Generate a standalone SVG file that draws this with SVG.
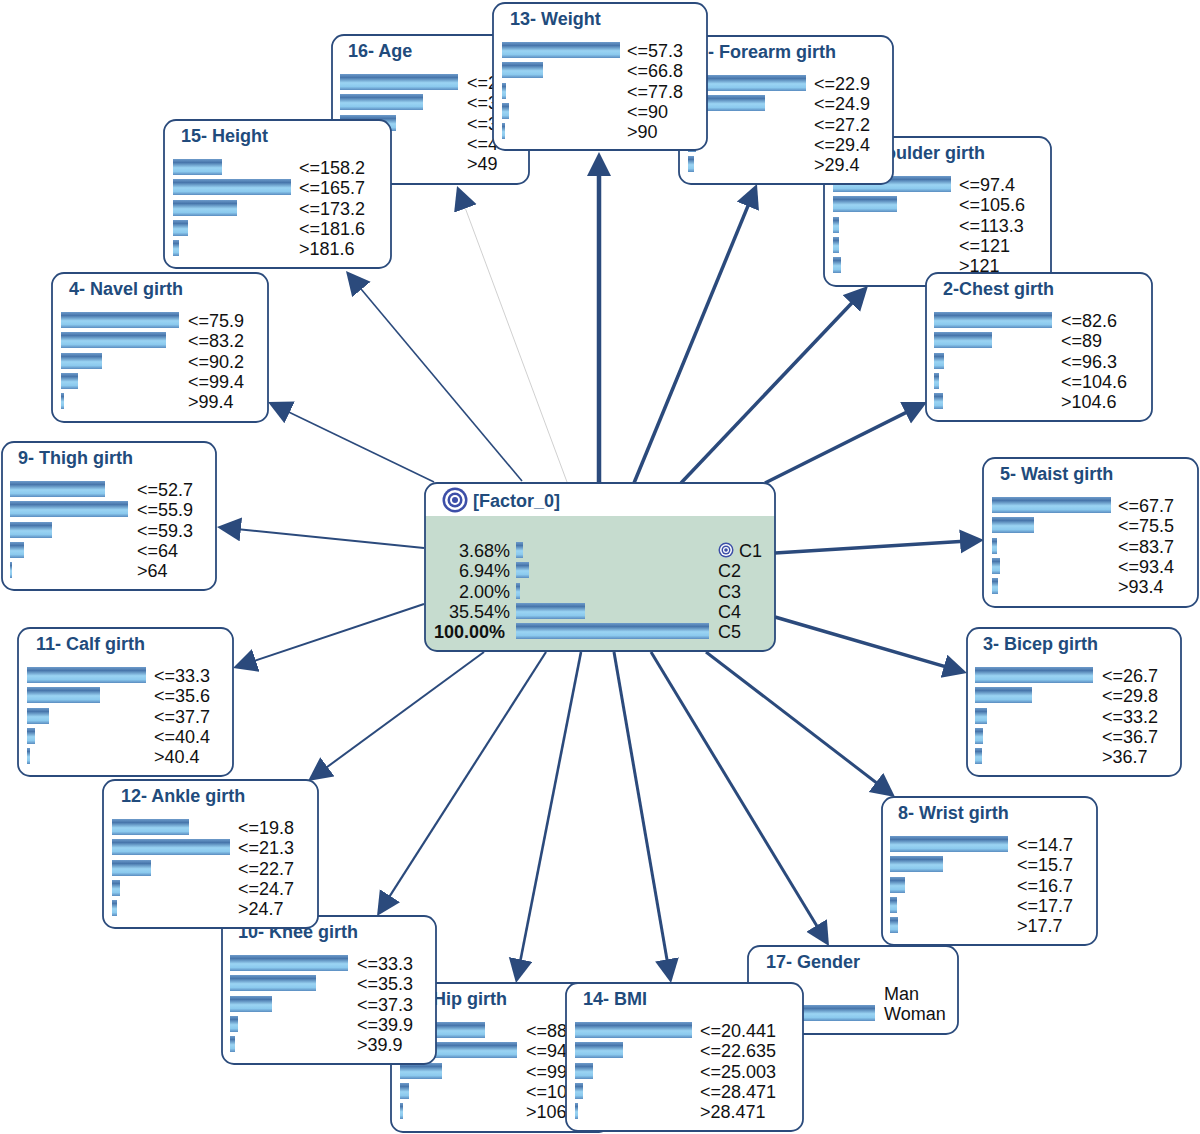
<svg xmlns="http://www.w3.org/2000/svg" width="1200" height="1134" viewBox="0 0 1200 1134">
<defs>
<linearGradient id="barg" x1="0" y1="0" x2="0" y2="1">
<stop offset="0" stop-color="#6d9bcb"/>
<stop offset="0.22" stop-color="#4876ab"/>
<stop offset="0.55" stop-color="#9bd4f3"/>
<stop offset="0.78" stop-color="#8ccaee"/>
<stop offset="1" stop-color="#5a8cc0"/>
</linearGradient>
<marker id="ah" markerUnits="userSpaceOnUse" markerWidth="26" markerHeight="26" refX="12" refY="12" orient="auto">
<path d="M0,0 L24,12 L0,24 Z" fill="#2b4a7c"/>
</marker>
<g id="target">
<circle r="12.5" fill="#3d4fa8"/>
<circle r="10" fill="#fff"/>
<circle r="7.5" fill="#3d4fa8"/>
<circle r="5" fill="#fff"/>
<circle r="3" fill="#3d4fa8"/>
</g>
</defs>
<style>
.box{fill:#fff;stroke:#2b4b7c;stroke-width:1.8}
.title{font-family:"Liberation Sans",Arial,sans-serif;font-weight:bold;font-size:18px;fill:#214b7c}
.val{font-family:"Liberation Sans",Arial,sans-serif;font-size:18px;fill:#111}
.bar{fill:url(#barg)}
.edge{stroke:#2b4a7c;fill:none;marker-end:url(#ah)}
</style>
<rect width="1200" height="1134" fill="#fff"/>
<g id="connectors">
<line class="edge" x1="599" y1="483" x2="599" y2="164" stroke-width="4.5"/>
<line class="edge" x1="567" y1="482" x2="461.2" y2="197.2" stroke-width="0.8" style="stroke:#c4c4c4"/>
<line class="edge" x1="522" y1="481" x2="353.7" y2="280.2" stroke-width="1.6"/>
<line class="edge" x1="434" y1="482" x2="278.8" y2="407.2" stroke-width="1.6"/>
<line class="edge" x1="424" y1="548" x2="228.9" y2="528.2" stroke-width="2"/>
<line class="edge" x1="424" y1="604" x2="244.4" y2="664.2" stroke-width="2"/>
<line class="edge" x1="484" y1="652" x2="317.7" y2="773.9" stroke-width="2"/>
<line class="edge" x1="546" y1="652" x2="383.5" y2="905.9" stroke-width="2.2"/>
<line class="edge" x1="581" y1="652" x2="518.3" y2="971.2" stroke-width="2.6"/>
<line class="edge" x1="614" y1="652" x2="669" y2="971.2" stroke-width="3"/>
<line class="edge" x1="651" y1="652" x2="822.8" y2="935.7" stroke-width="3"/>
<line class="edge" x1="706" y1="652" x2="885.5" y2="789.7" stroke-width="3"/>
<line class="edge" x1="775" y1="617" x2="955.5" y2="669.6" stroke-width="3.5"/>
<line class="edge" x1="775" y1="553" x2="972" y2="540.7" stroke-width="3.5"/>
<line class="edge" x1="765" y1="483" x2="916.3" y2="407.4" stroke-width="3.5"/>
<line class="edge" x1="681" y1="483" x2="859.7" y2="294.7" stroke-width="3.5"/>
<line class="edge" x1="634" y1="483" x2="752.4" y2="195.1" stroke-width="3.5"/>
</g>

<g id="n16" transform="translate(332,35)">
<rect class="box" width="197" height="149" rx="12"/>
<text class="title" x="16" y="22">16- Age</text>
<rect class="bar" x="8" y="39" width="118" height="16"/>
<rect class="bar" x="8" y="59" width="83" height="16"/>
<rect class="bar" x="8" y="80" width="56" height="16"/>
<rect class="bar" x="8" y="100" width="30" height="16"/>
<rect class="bar" x="8" y="120" width="15" height="16"/>
<text class="val" x="135" y="54">&lt;=2</text>
<text class="val" x="135" y="74">&lt;=3</text>
<text class="val" x="135" y="95">&lt;=3</text>
<text class="val" x="135" y="115">&lt;=4</text>
<text class="val" x="135" y="135">&gt;49</text>
</g>

<g id="n6" transform="translate(824,137)">
<rect class="box" width="227" height="149" rx="12"/>
<text class="title" x="61" y="22">oulder girth</text>
<rect class="bar" x="9" y="39" width="118" height="16"/>
<rect class="bar" x="9" y="59" width="64" height="16"/>
<rect class="bar" x="9" y="80" width="6" height="16"/>
<rect class="bar" x="9" y="100" width="6" height="16"/>
<rect class="bar" x="9" y="120" width="8" height="16"/>
<text class="val" x="135" y="54">&lt;=97.4</text>
<text class="val" x="135" y="74">&lt;=105.6</text>
<text class="val" x="135" y="95">&lt;=113.3</text>
<text class="val" x="135" y="115">&lt;=121</text>
<text class="val" x="135" y="135">&gt;121</text>
</g>

<g id="n7" transform="translate(679,36)">
<rect class="box" width="214" height="148" rx="12"/>
<text class="title" x="29" y="22">- Forearm girth</text>
<rect class="bar" x="9" y="39" width="118" height="16"/>
<rect class="bar" x="9" y="59" width="77" height="16"/>
<rect class="bar" x="9" y="80" width="10" height="16"/>
<rect class="bar" x="9" y="100" width="8" height="16"/>
<rect class="bar" x="9" y="120" width="6" height="16"/>
<text class="val" x="135" y="54">&lt;=22.9</text>
<text class="val" x="135" y="74">&lt;=24.9</text>
<text class="val" x="135" y="95">&lt;=27.2</text>
<text class="val" x="135" y="115">&lt;=29.4</text>
<text class="val" x="135" y="135">&gt;29.4</text>
</g>

<g id="n13" transform="translate(493,3)">
<rect class="box" width="214" height="147" rx="12"/>
<text class="title" x="17" y="22">13- Weight</text>
<rect class="bar" x="9" y="39" width="118" height="16"/>
<rect class="bar" x="9" y="59" width="41" height="16"/>
<rect class="bar" x="9" y="80" width="4" height="16"/>
<rect class="bar" x="9" y="100" width="7" height="16"/>
<rect class="bar" x="9" y="120" width="3" height="16"/>
<text class="val" x="134" y="54">&lt;=57.3</text>
<text class="val" x="134" y="74">&lt;=66.8</text>
<text class="val" x="134" y="95">&lt;=77.8</text>
<text class="val" x="134" y="115">&lt;=90</text>
<text class="val" x="134" y="135">&gt;90</text>
</g>

<g id="n15" transform="translate(164,120)">
<rect class="box" width="227" height="148" rx="12"/>
<text class="title" x="17" y="22">15- Height</text>
<rect class="bar" x="9" y="39" width="49" height="16"/>
<rect class="bar" x="9" y="59" width="118" height="16"/>
<rect class="bar" x="9" y="80" width="64" height="16"/>
<rect class="bar" x="9" y="100" width="15" height="16"/>
<rect class="bar" x="9" y="120" width="6" height="16"/>
<text class="val" x="135" y="54">&lt;=158.2</text>
<text class="val" x="135" y="74">&lt;=165.7</text>
<text class="val" x="135" y="95">&lt;=173.2</text>
<text class="val" x="135" y="115">&lt;=181.6</text>
<text class="val" x="135" y="135">&gt;181.6</text>
</g>

<g id="n2" transform="translate(926,273)">
<rect class="box" width="226" height="148" rx="12"/>
<text class="title" x="17" y="22">2-Chest girth</text>
<rect class="bar" x="8" y="39" width="118" height="16"/>
<rect class="bar" x="8" y="59" width="58" height="16"/>
<rect class="bar" x="8" y="80" width="10" height="16"/>
<rect class="bar" x="8" y="100" width="5" height="16"/>
<rect class="bar" x="8" y="120" width="9" height="16"/>
<text class="val" x="135" y="54">&lt;=82.6</text>
<text class="val" x="135" y="74">&lt;=89</text>
<text class="val" x="135" y="95">&lt;=96.3</text>
<text class="val" x="135" y="115">&lt;=104.6</text>
<text class="val" x="135" y="135">&gt;104.6</text>
</g>

<g id="n4" transform="translate(52,273)">
<rect class="box" width="216" height="149" rx="12"/>
<text class="title" x="17" y="22">4- Navel girth</text>
<rect class="bar" x="9" y="39" width="118" height="16"/>
<rect class="bar" x="9" y="59" width="105" height="16"/>
<rect class="bar" x="9" y="80" width="41" height="16"/>
<rect class="bar" x="9" y="100" width="17" height="16"/>
<rect class="bar" x="9" y="120" width="3" height="16"/>
<text class="val" x="136" y="54">&lt;=75.9</text>
<text class="val" x="136" y="74">&lt;=83.2</text>
<text class="val" x="136" y="95">&lt;=90.2</text>
<text class="val" x="136" y="115">&lt;=99.4</text>
<text class="val" x="136" y="135">&gt;99.4</text>
</g>

<g id="n9" transform="translate(2,442)">
<rect class="box" width="214" height="148" rx="12"/>
<text class="title" x="16" y="22">9- Thigh girth</text>
<rect class="bar" x="8" y="39" width="95" height="16"/>
<rect class="bar" x="8" y="59" width="118" height="16"/>
<rect class="bar" x="8" y="80" width="42" height="16"/>
<rect class="bar" x="8" y="100" width="14" height="16"/>
<rect class="bar" x="8" y="120" width="2" height="16"/>
<text class="val" x="135" y="54">&lt;=52.7</text>
<text class="val" x="135" y="74">&lt;=55.9</text>
<text class="val" x="135" y="95">&lt;=59.3</text>
<text class="val" x="135" y="115">&lt;=64</text>
<text class="val" x="135" y="135">&gt;64</text>
</g>

<g id="n5" transform="translate(983,458)">
<rect class="box" width="215" height="149" rx="12"/>
<text class="title" x="17" y="22">5- Waist girth</text>
<rect class="bar" x="9" y="39" width="119" height="16"/>
<rect class="bar" x="9" y="59" width="42" height="16"/>
<rect class="bar" x="9" y="80" width="5" height="16"/>
<rect class="bar" x="9" y="100" width="8" height="16"/>
<rect class="bar" x="9" y="120" width="6" height="16"/>
<text class="val" x="135" y="54">&lt;=67.7</text>
<text class="val" x="135" y="74">&lt;=75.5</text>
<text class="val" x="135" y="95">&lt;=83.7</text>
<text class="val" x="135" y="115">&lt;=93.4</text>
<text class="val" x="135" y="135">&gt;93.4</text>
</g>

<g id="n11" transform="translate(18,628)">
<rect class="box" width="215" height="148" rx="12"/>
<text class="title" x="18" y="22">11- Calf girth</text>
<rect class="bar" x="9" y="39" width="119" height="16"/>
<rect class="bar" x="9" y="59" width="73" height="16"/>
<rect class="bar" x="9" y="80" width="22" height="16"/>
<rect class="bar" x="9" y="100" width="8" height="16"/>
<rect class="bar" x="9" y="120" width="3" height="16"/>
<text class="val" x="136" y="54">&lt;=33.3</text>
<text class="val" x="136" y="74">&lt;=35.6</text>
<text class="val" x="136" y="95">&lt;=37.7</text>
<text class="val" x="136" y="115">&lt;=40.4</text>
<text class="val" x="136" y="135">&gt;40.4</text>
</g>

<g id="n3" transform="translate(967,628)">
<rect class="box" width="214" height="148" rx="12"/>
<text class="title" x="16" y="22">3- Bicep girth</text>
<rect class="bar" x="8" y="39" width="118" height="16"/>
<rect class="bar" x="8" y="59" width="57" height="16"/>
<rect class="bar" x="8" y="80" width="12" height="16"/>
<rect class="bar" x="8" y="100" width="8" height="16"/>
<rect class="bar" x="8" y="120" width="7" height="16"/>
<text class="val" x="135" y="54">&lt;=26.7</text>
<text class="val" x="135" y="74">&lt;=29.8</text>
<text class="val" x="135" y="95">&lt;=33.2</text>
<text class="val" x="135" y="115">&lt;=36.7</text>
<text class="val" x="135" y="135">&gt;36.7</text>
</g>

<g id="n8" transform="translate(882,797)">
<rect class="box" width="215" height="148" rx="12"/>
<text class="title" x="16" y="22">8- Wrist girth</text>
<rect class="bar" x="8" y="39" width="118" height="16"/>
<rect class="bar" x="8" y="59" width="53" height="16"/>
<rect class="bar" x="8" y="80" width="15" height="16"/>
<rect class="bar" x="8" y="100" width="7" height="16"/>
<rect class="bar" x="8" y="120" width="8" height="16"/>
<text class="val" x="135" y="54">&lt;=14.7</text>
<text class="val" x="135" y="74">&lt;=15.7</text>
<text class="val" x="135" y="95">&lt;=16.7</text>
<text class="val" x="135" y="115">&lt;=17.7</text>
<text class="val" x="135" y="135">&gt;17.7</text>
</g>

<g id="n1" transform="translate(391,983)">
<rect class="box" width="220" height="149" rx="12"/>
<text class="title" x="42" y="22">Hip girth</text>
<rect class="bar" x="9" y="39" width="85" height="16"/>
<rect class="bar" x="9" y="59" width="117" height="16"/>
<rect class="bar" x="9" y="80" width="42" height="16"/>
<rect class="bar" x="9" y="100" width="9" height="16"/>
<rect class="bar" x="9" y="120" width="3" height="16"/>
<text class="val" x="135" y="54">&lt;=88</text>
<text class="val" x="135" y="74">&lt;=94</text>
<text class="val" x="135" y="95">&lt;=99</text>
<text class="val" x="135" y="115">&lt;=10</text>
<text class="val" x="135" y="135">&gt;106</text>
</g>

<g id="n17" transform="translate(748,946)">
<rect class="box" width="210" height="88" rx="12"/>
<text class="title" x="18" y="22">17- Gender</text>
<rect class="bar" x="9" y="39" width="30" height="16"/>
<rect class="bar" x="9" y="59" width="118" height="16"/>
<text class="val" x="136" y="54">Man</text>
<text class="val" x="136" y="74">Woman</text>
</g>

<g id="n10" transform="translate(222,916)">
<rect class="box" width="214" height="148" rx="12"/>
<text class="title" x="16" y="22">10- Knee girth</text>
<rect class="bar" x="8" y="39" width="118" height="16"/>
<rect class="bar" x="8" y="59" width="86" height="16"/>
<rect class="bar" x="8" y="80" width="42" height="16"/>
<rect class="bar" x="8" y="100" width="8" height="16"/>
<rect class="bar" x="8" y="120" width="5" height="16"/>
<text class="val" x="135" y="54">&lt;=33.3</text>
<text class="val" x="135" y="74">&lt;=35.3</text>
<text class="val" x="135" y="95">&lt;=37.3</text>
<text class="val" x="135" y="115">&lt;=39.9</text>
<text class="val" x="135" y="135">&gt;39.9</text>
</g>

<g id="n12" transform="translate(103,780)">
<rect class="box" width="215" height="148" rx="12"/>
<text class="title" x="18" y="22">12- Ankle girth</text>
<rect class="bar" x="9" y="39" width="77" height="16"/>
<rect class="bar" x="9" y="59" width="118" height="16"/>
<rect class="bar" x="9" y="80" width="39" height="16"/>
<rect class="bar" x="9" y="100" width="8" height="16"/>
<rect class="bar" x="9" y="120" width="5" height="16"/>
<text class="val" x="135" y="54">&lt;=19.8</text>
<text class="val" x="135" y="74">&lt;=21.3</text>
<text class="val" x="135" y="95">&lt;=22.7</text>
<text class="val" x="135" y="115">&lt;=24.7</text>
<text class="val" x="135" y="135">&gt;24.7</text>
</g>

<g id="n14" transform="translate(566,983)">
<rect class="box" width="237" height="148" rx="12"/>
<text class="title" x="17" y="22">14- BMI</text>
<rect class="bar" x="9" y="39" width="117" height="16"/>
<rect class="bar" x="9" y="59" width="48" height="16"/>
<rect class="bar" x="9" y="80" width="18" height="16"/>
<rect class="bar" x="9" y="100" width="8" height="16"/>
<rect class="bar" x="9" y="120" width="3" height="16"/>
<text class="val" x="134" y="54">&lt;=20.441</text>
<text class="val" x="134" y="74">&lt;=22.635</text>
<text class="val" x="134" y="95">&lt;=25.003</text>
<text class="val" x="134" y="115">&lt;=28.471</text>
<text class="val" x="134" y="135">&gt;28.471</text>
</g>

<g id="factor0">
<rect x="425" y="483" width="350" height="168" rx="12" fill="#c6dccf"/>
<path d="M425,516 V495 A12,12 0 0 1 437,483 H763 A12,12 0 0 1 775,495 V516 Z" fill="#fff"/>
<rect x="425" y="483" width="350" height="168" rx="12" fill="none" stroke="#2b4b7c" stroke-width="1.8"/>
<use href="#target" x="455" y="500"/>
<text class="title" x="473" y="507">[Factor_0]</text>
<rect class="bar" x="516" y="542" width="7" height="16"/>
<rect class="bar" x="516" y="562" width="13" height="16"/>
<rect class="bar" x="516" y="583" width="4" height="16"/>
<rect class="bar" x="516" y="603" width="69" height="16"/>
<rect class="bar" x="516" y="623" width="193" height="16"/>
<text class="val" x="510" y="557" text-anchor="end">3.68%</text>
<text class="val" x="510" y="577" text-anchor="end">6.94%</text>
<text class="val" x="510" y="598" text-anchor="end">2.00%</text>
<text class="val" x="510" y="618" text-anchor="end">35.54%</text>
<text class="val" x="505" y="638" text-anchor="end" font-weight="bold">100.00%</text>
<use href="#target" transform="translate(726,550) scale(0.6)"/>
<text class="val" x="739" y="557">C1</text>
<text class="val" x="718" y="577">C2</text>
<text class="val" x="718" y="598">C3</text>
<text class="val" x="718" y="618">C4</text>
<text class="val" x="718" y="638">C5</text>
</g>
</svg>
